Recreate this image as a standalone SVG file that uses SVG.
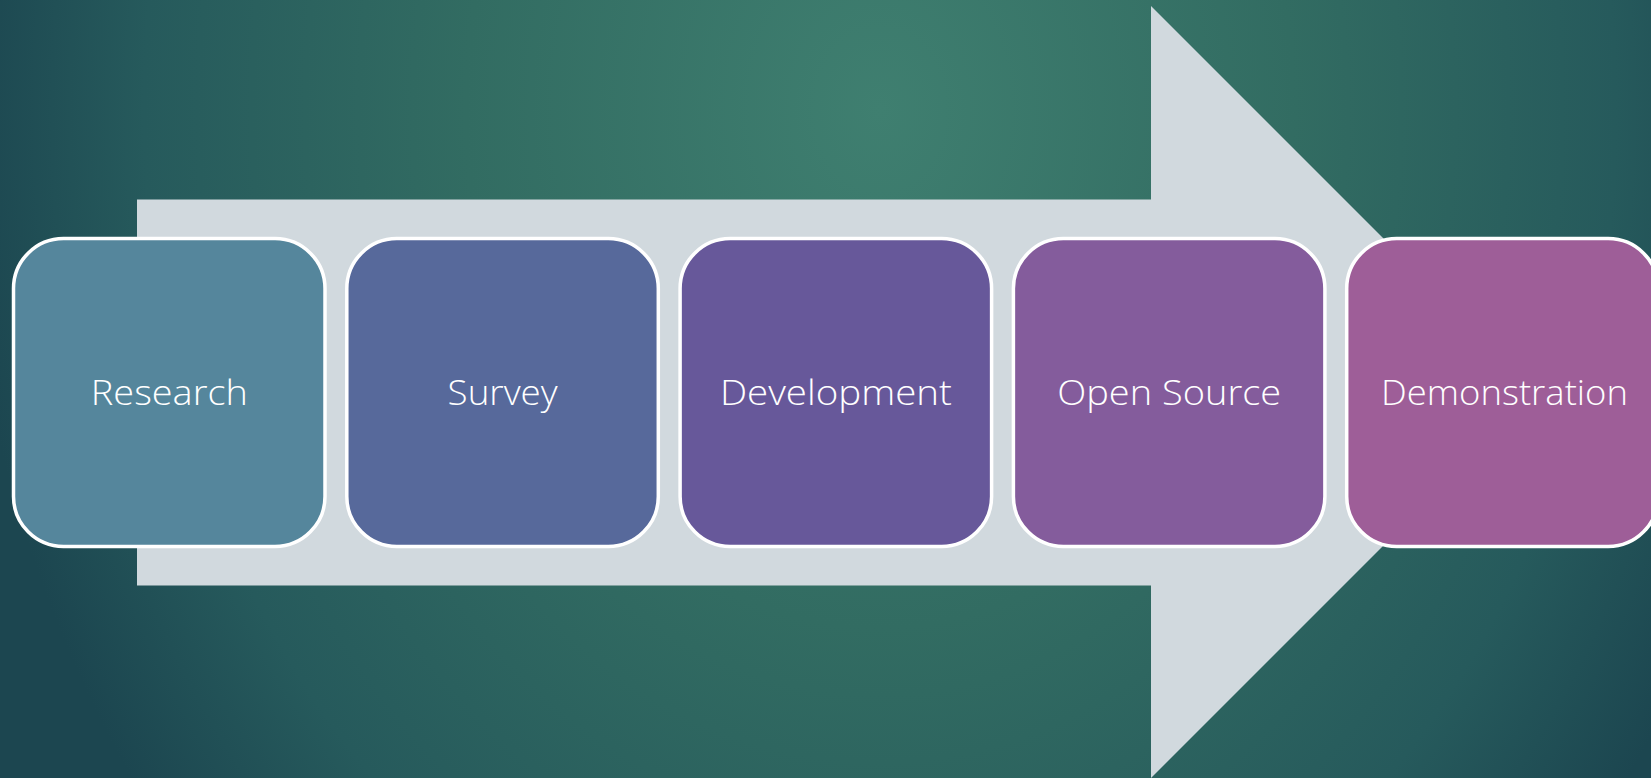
<svg xmlns="http://www.w3.org/2000/svg" width="1651" height="778" viewBox="0 0 1651 778">
<defs>
<radialGradient id="bg" gradientUnits="userSpaceOnUse" cx="880" cy="110" r="920" gradientTransform="translate(880 110) scale(1 1.25) translate(-880 -110)">
<stop offset="0" stop-color="#3F7F70"/>
<stop offset="0.45" stop-color="#326C62"/>
<stop offset="0.8" stop-color="#265A5C"/>
<stop offset="1" stop-color="#1C4650"/>
</radialGradient>
<style>
.box{stroke:#FFFFFF;stroke-width:3.5}
.lbl{font-family:"Open Sans","Liberation Sans",sans-serif;font-weight:300;font-size:34px;fill:#FFFFFF;text-anchor:middle}
</style>
</defs>
<rect x="0" y="0" width="1651" height="778" fill="url(#bg)"/>
<g id="connectors">
<polygon id="arrow" points="137,199.5 1151,199.5 1151,6 1537,392 1151,778 1151,585.5 137,585.5" fill="#D1D9DE"/>
</g>
<g id="node-research">
<rect class="box" x="13.5" y="238.5" width="311.5" height="308" rx="50" fill="#55869C"/>
<text class="lbl" x="169.3" y="405" textLength="157" lengthAdjust="spacingAndGlyphs">Research</text>
</g>
<g id="node-survey">
<rect class="box" x="346.8" y="238.5" width="311.5" height="308" rx="50" fill="#57699B"/>
<text class="lbl" x="502.6" y="405" textLength="110" lengthAdjust="spacingAndGlyphs">Survey</text>
</g>
<g id="node-development">
<rect class="box" x="680.1" y="238.5" width="311.5" height="308" rx="50" fill="#67589A"/>
<text class="lbl" x="835.9" y="405" textLength="232" lengthAdjust="spacingAndGlyphs">Development</text>
</g>
<g id="node-opensource">
<rect class="box" x="1013.4" y="238.5" width="311.5" height="308" rx="50" fill="#845C9C"/>
<text class="lbl" x="1169.2" y="405" textLength="224" lengthAdjust="spacingAndGlyphs">Open Source</text>
</g>
<g id="node-demonstration">
<rect class="box" x="1346.7" y="238.5" width="311.5" height="308" rx="50" fill="#9E5E98"/>
<text class="lbl" x="1504.5" y="405" textLength="247" lengthAdjust="spacingAndGlyphs">Demonstration</text>
</g>
</svg>
